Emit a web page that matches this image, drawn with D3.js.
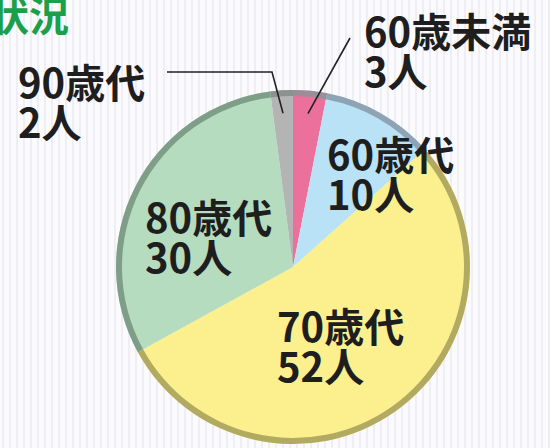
<!DOCTYPE html>
<html>
<head>
<meta charset="utf-8">
<script src="https://cdn.jsdelivr.net/npm/d3@7"></script>
<style>
  html, body { margin: 0; padding: 0; background: #fff; }
  svg { display: block; }
</style>
</head>
<body>
<div id="chart"></div>
<script>
const categories = ["60歳未満", "60歳代", "70歳代", "80歳代", "90歳代"];
const counts = [3, 10, 52, 30, 2];
const unitLabels = ["3人", "10人", "52人", "30人", "2人"];
const sliceColors = ["#ec709c", "#b9e2f6", "#fbf08d", "#b6dcc0", "#b4b4b4"];
const ringColors = ["#9a8f98", "#8ea4b4", "#b3aa62", "#7f9e88", "#8c938e"];

const width = 550;
const height = 448;
const cx = 293, cy = 267, radius = 177, ring = 6;

const svg = d3.select("#chart").append("svg")
  .attr("width", width)
  .attr("height", height);

// faint striped paper background
const defs = svg.append("defs");
const pat = defs.append("pattern")
  .attr("id", "stripes")
  .attr("width", 7)
  .attr("height", 7)
  .attr("patternUnits", "userSpaceOnUse");
pat.append("rect").attr("width", 7).attr("height", 7).attr("fill", "#fbfbfd");
pat.append("rect").attr("x", 2).attr("width", 2).attr("height", 7).attr("fill", "#eeeef4");

svg.append("rect")
  .attr("width", width)
  .attr("height", height)
  .attr("fill", "url(#stripes)");

// title, cut off at the left edge
svg.append("text")
  .attr("x", -11)
  .attr("y", 31)
  .style("font-family", "'Noto Sans CJK JP', sans-serif")
  .style("font-size", "40px")
  .style("font-weight", "bold")
  .style("fill", "#1c9f4b")
  .text("状況");

const pie = d3.pie().sort(null).value(d => d);
const arcs = pie(counts);

const g = svg.append("g")
  .attr("transform", `translate(${cx},${cy})`);

const arc = d3.arc().innerRadius(0).outerRadius(radius);
const ringArc = d3.arc().innerRadius(radius - ring).outerRadius(radius);

g.selectAll(".slice")
  .data(arcs)
  .enter().append("path")
  .attr("class", "slice")
  .attr("d", arc)
  .attr("fill", (d, i) => sliceColors[i]);

g.selectAll(".ring")
  .data(arcs)
  .enter().append("path")
  .attr("class", "ring")
  .attr("d", ringArc)
  .attr("fill", (d, i) => ringColors[i]);

// labels
const labelPos = [
  { x: 364, y: 47 },
  { x: 327, y: 170 },
  { x: 277, y: 342 },
  { x: 145, y: 233 },
  { x: 18, y: 98 }
];
const lineGap = 40;

categories.forEach((c, i) => {
  const t = svg.append("text")
    .attr("x", labelPos[i].x)
    .attr("y", labelPos[i].y)
    .style("font-family", "'Noto Sans CJK JP', sans-serif")
    .style("font-size", "40px")
    .style("font-weight", "bold")
    .style("fill", "#1e1e1e");
  t.append("tspan").attr("x", labelPos[i].x).text(c);
  t.append("tspan").attr("x", labelPos[i].x).attr("dy", lineGap).text(unitLabels[i]);
});

// leader lines for the two small slices
const leaderArc = d3.arc().innerRadius(154).outerRadius(154);
const p0 = leaderArc.centroid(arcs[0]);
svg.append("path")
  .attr("d", d3.line()([[350, 38], [cx + p0[0], cy + p0[1]]]))
  .attr("fill", "none")
  .attr("stroke", "#222")
  .attr("stroke-width", 1.6);

const p4 = leaderArc.centroid(arcs[4]);
svg.append("path")
  .attr("d", d3.line()([[167, 72], [272, 72], [cx + p4[0], cy + p4[1]]]))
  .attr("fill", "none")
  .attr("stroke", "#222")
  .attr("stroke-width", 1.6);
</script>
</body>
</html>
